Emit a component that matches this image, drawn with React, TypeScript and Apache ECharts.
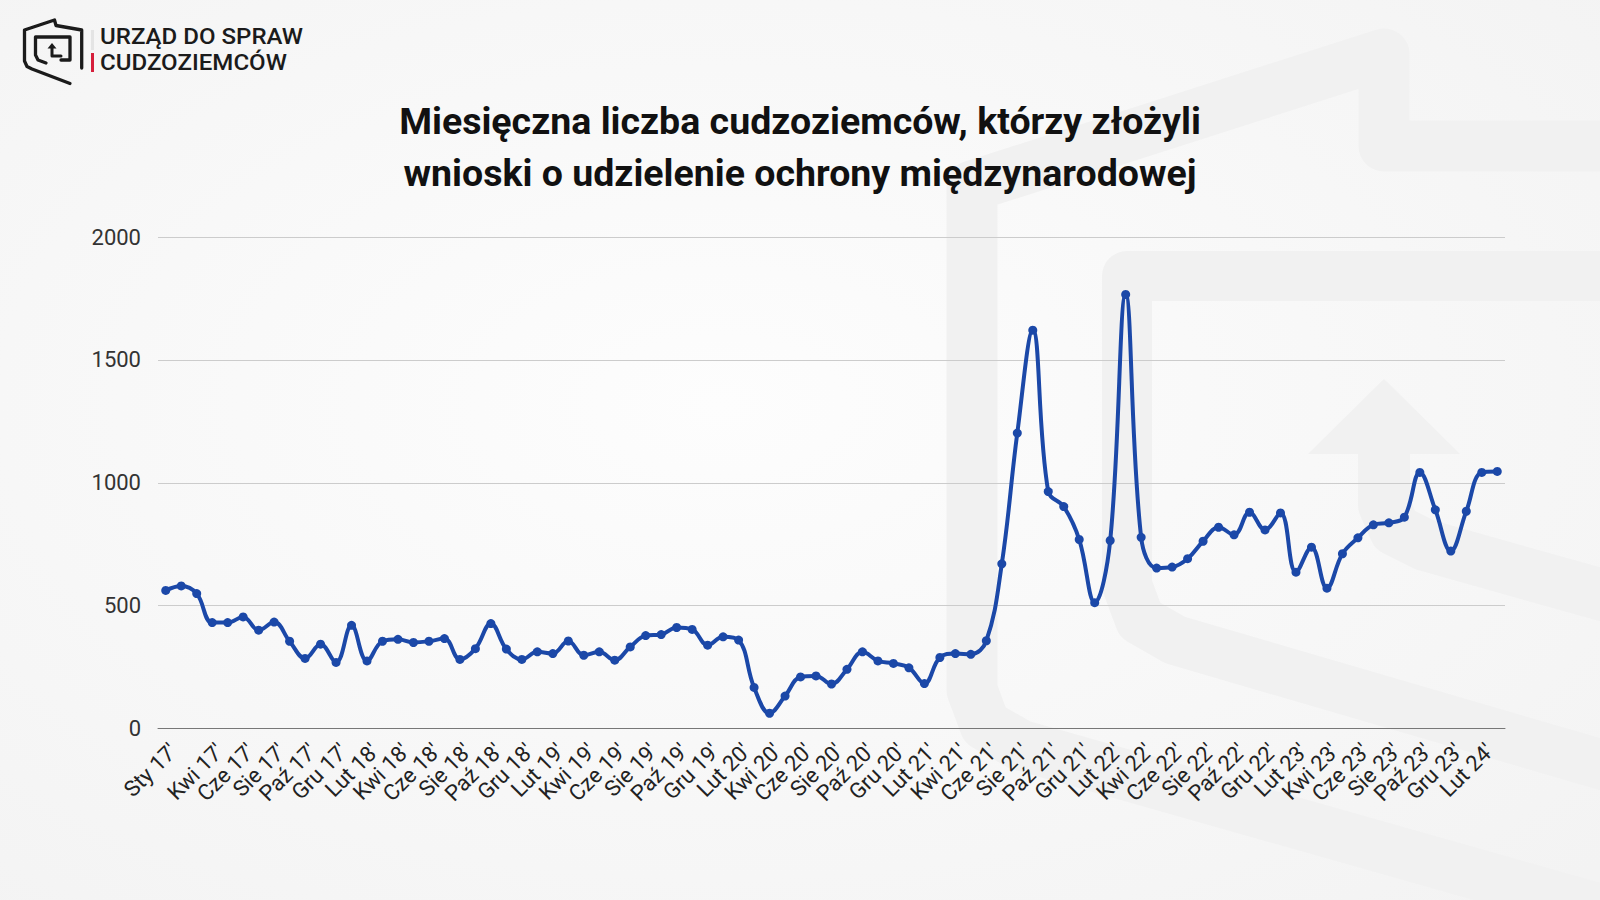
import React, { useEffect, useRef } from "react";
import * as echarts from "echarts";

const monthNames = ["Sty", "Lut", "Mar", "Kwi", "Maj", "Cze", "Lip", "Sie", "Wrz", "Paź", "Lis", "Gru"];
const years = ["17", "18", "19", "20", "21", "22", "23", "24"];

// Jan 2017 .. Mar 2024
const categories: string[] = [];
years.forEach((y) => {
  monthNames.forEach((m, i) => {
    if (y === "24" && i > 2) return;
    categories.push(`${m} ${y}'`);
  });
});

const applications = [
  562, 580, 549, 431, 431, 454, 400, 433, 355, 285, 343, 269,
  420, 275, 355, 363, 350, 355, 366, 281, 325, 427, 323, 281,
  312, 305, 356, 298, 312, 278, 332, 378, 382, 411, 403, 339,
  373, 360, 167, 62, 132, 210, 214, 181, 241, 312, 275, 265,
  247, 183, 289, 305, 302, 357, 670, 1202, 1621, 964, 903, 769,
  512, 765, 1766, 778, 653, 657, 691, 762, 819, 788, 880, 808,
  877, 636, 738, 571, 711, 776, 829, 837, 860, 1042, 890, 722,
  884, 1042, 1046,
];

const titleLines = [
  "Miesięczna liczba cudzoziemców, którzy złożyli",
  "wnioski o udzielenie ochrony międzynarodowej",
];
const logoLines = ["URZĄD DO SPRAW", "CUDZOZIEMCÓW"];

export default function App() {
  const ref = useRef<HTMLDivElement>(null);

  useEffect(() => {
    document.body.style.margin = "0";
    const chart = echarts.init(ref.current!, undefined, { renderer: "svg" });
    const wm = "#f1f1f1";
    const ink = "#1b1b1b";
    const option: any = {
      animation: false,
      backgroundColor: "#f7f7f7",
      title: {
        text: titleLines.join("\n"),
        left: "center",
        top: 95,
        padding: 0,
        textStyle: {
          fontFamily: "Roboto",
          fontWeight: "bold",
          fontSize: 37.5,
          lineHeight: 52,
          color: "#111111",
        },
      },
      grid: { left: 158, right: 95, top: 237, bottom: 171.5 },
      xAxis: {
        type: "category",
        data: categories,
        boundaryGap: true,
        axisTick: { show: false },
        axisLine: { lineStyle: { color: "#777777", width: 1 } },
        axisLabel: {
          rotate: 45,
          interval: (idx: number) => idx === 0 || (idx % 2 === 1 && idx !== 1),
          hideOverlap: false,
          verticalAlign: "top",
          fontFamily: "Roboto",
          fontSize: 22,
          color: "#222222",
          margin: 11,
        },
      },
      yAxis: {
        type: "value",
        min: 0,
        max: 2000,
        interval: 500,
        axisLine: { show: false },
        axisTick: { show: false },
        splitLine: { lineStyle: { color: "#cccccc", width: 1 } },
        axisLabel: {
          formatter: (v: number) => String(v),
          fontFamily: "Roboto",
          fontSize: 22,
          color: "#333333",
          margin: 17,
        },
      },
      series: [
        {
          type: "line",
          data: applications,
          smooth: 0.4,
          symbol: "circle",
          symbolSize: 9,
          lineStyle: { color: "#1b48a8", width: 4 },
          itemStyle: { color: "#1b48a8" },
          z: 5,
        },
      ],
      graphic: [
        {
          type: "rect",
          z: -20,
          silent: true,
          shape: { x: 0, y: 0, width: 1600, height: 900 },
          style: {
            fill: new echarts.graphic.RadialGradient(0.45, 0.45, 0.75, [
              { offset: 0, color: "#fdfdfd" },
              { offset: 1, color: "#f3f3f3" },
            ]),
          },
        },
        // watermark: outer folder band
        {
          type: "polyline",
          z: -15,
          silent: true,
          shape: {
            points: [
              [1620, 146], [1384, 146], [1384, 54], [972, 186], [972, 690],
              [985, 725], [1020, 745], [1620, 915],
            ],
          },
          style: { stroke: wm, lineWidth: 51, lineJoin: "round", fill: null },
        },
        // watermark: inner frame
        {
          type: "polyline",
          z: -15,
          silent: true,
          shape: {
            points: [
              [1620, 276], [1127, 276], [1127, 585], [1140, 620], [1175, 640], [1620, 770],
            ],
          },
          style: { stroke: wm, lineWidth: 50, lineJoin: "round", fill: null },
        },
        // watermark: arrow
        {
          type: "polygon",
          z: -15,
          silent: true,
          shape: { points: [[1308, 454], [1384, 379], [1460, 454]] },
          style: { fill: wm },
        },
        {
          type: "polyline",
          z: -15,
          silent: true,
          shape: {
            points: [[1384, 450], [1384, 505], [1395, 530], [1425, 545], [1620, 600]],
          },
          style: { stroke: wm, lineWidth: 52, lineJoin: "round", fill: null },
        },
        // logo icon
        {
          type: "polyline",
          z: 10,
          shape: {
            points: [
              [81.7, 68], [81.7, 30], [56, 25.5], [54.5, 20], [24.5, 30], [24.5, 61],
              [27, 66.5], [32, 69], [70, 83.5],
            ],
          },
          style: { stroke: ink, lineWidth: 3.3, lineJoin: "round", lineCap: "round", fill: null },
        },
        {
          type: "polyline",
          z: 10,
          shape: {
            points: [[61, 60], [70, 60], [70, 37], [35.5, 37], [35.5, 55], [38, 60], [46, 63]],
          },
          style: { stroke: ink, lineWidth: 3.3, lineJoin: "round", lineCap: "round", fill: null },
        },
        {
          type: "polyline",
          z: 10,
          shape: { points: [[52, 47], [52, 56], [61, 56]] },
          style: { stroke: ink, lineWidth: 3, lineJoin: "round", lineCap: "round", fill: null },
        },
        {
          type: "polygon",
          z: 10,
          shape: { points: [[47.5, 48.5], [52, 43], [56.5, 48.5]] },
          style: { fill: ink },
        },
        {
          type: "rect",
          z: 10,
          shape: { x: 91, y: 30, width: 3, height: 20 },
          style: { fill: "#e4e4e4" },
        },
        {
          type: "rect",
          z: 10,
          shape: { x: 91, y: 53, width: 3, height: 19 },
          style: { fill: "#d61f3c" },
        },
        {
          type: "text",
          z: 10,
          x: 100,
          y: 37,
          scaleX: 1.12,
          style: {
            text: logoLines[0],
            fontFamily: "Roboto",
            fontWeight: 500,
            fontSize: 21.5,
            fill: "#1b1b1b",
            verticalAlign: "middle",
          },
        },
        {
          type: "text",
          z: 10,
          x: 100,
          y: 62.5,
          scaleX: 1.12,
          style: {
            text: logoLines[1],
            fontFamily: "Roboto",
            fontWeight: 500,
            fontSize: 21.5,
            fill: "#1b1b1b",
            verticalAlign: "middle",
          },
        },
      ],
    };
    chart.setOption(option);
    return () => chart.dispose();
  }, []);

  return (
    <div
      ref={ref}
      style={{ position: "fixed", left: 0, top: 0, width: 1600, height: 900 }}
    />
  );
}
